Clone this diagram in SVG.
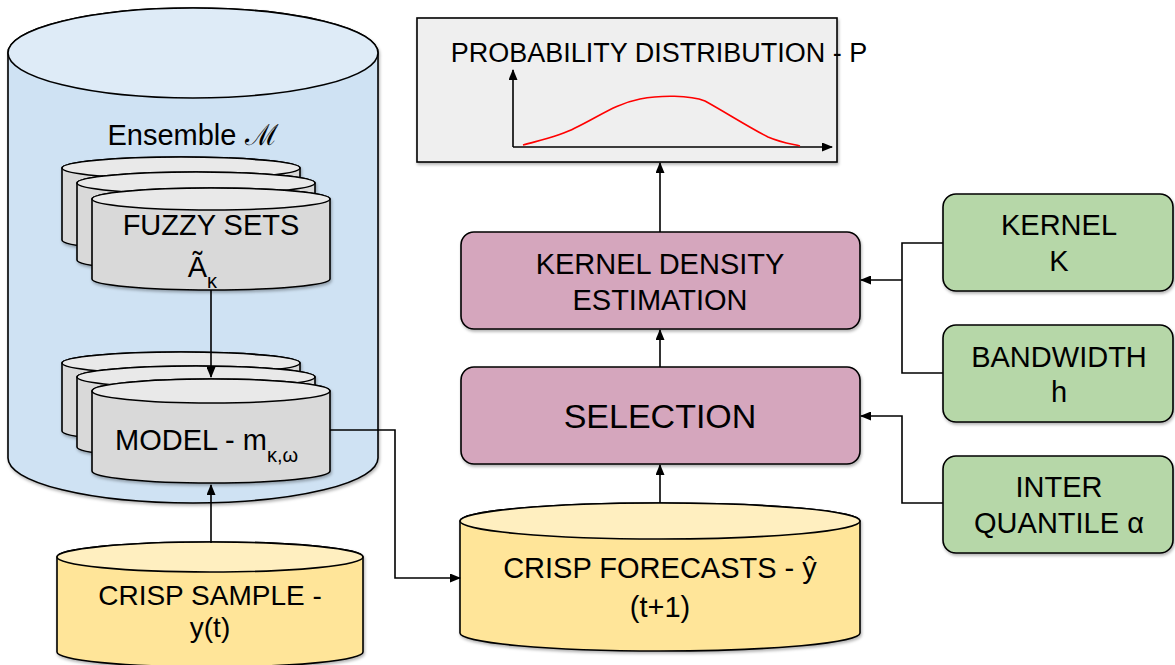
<svg xmlns="http://www.w3.org/2000/svg" width="1175" height="665" viewBox="0 0 1175 665">
<defs>
<style>
.t{font-family:"Liberation Sans",Arial,sans-serif;font-size:29px;fill:#000;text-anchor:middle}
.ln{stroke:#000;stroke-width:1.6;fill:none}
.shape{stroke:#000;stroke-width:1.6}
.blue{fill:#cfe2f3}.blueTop{fill:#deebf7}
.gray{fill:#d9d9d9}.grayTop{fill:#e9e9e9}
.yel{fill:#ffe599}.yelTop{fill:#ffefc0}
.pink{fill:#d5a6bd}.green{fill:#b6d7a8}
</style>
<filter id="sh" x="-10%" y="-10%" width="120%" height="130%">
<feDropShadow dx="1" dy="2" stdDeviation="1.5" flood-color="#000" flood-opacity="0.3"/>
</filter>
<marker id="ar" markerUnits="userSpaceOnUse" markerWidth="11" markerHeight="9" refX="10" refY="4.5" orient="auto">
<path d="M0,0 L11,4.5 L0,9 z" fill="#000"/>
</marker>
</defs>

<g id="ensemble" filter="url(#sh)">
<path class="shape blue" d="M8,53 V458 A185,45 0 0 0 378,458 V53 A185,45 0 0 0 8,53 Z"/>
<ellipse class="shape blueTop" cx="193" cy="53" rx="185" ry="45"/>
</g>
<text class="t" x="193" y="145">Ensemble <tspan font-family="'DejaVu Serif',serif">ℳ</tspan></text>

<g id="fuzzy-sets" filter="url(#sh)">
<path class="shape gray" d="M62,168 V240 A119,11 0 0 0 300,240 V168 A119,11 0 0 0 62,168 Z"/>
<ellipse class="shape grayTop" cx="181" cy="168" rx="119" ry="11"/>
<path class="shape gray" d="M77,183 V260 A119,11 0 0 0 315,260 V183 A119,11 0 0 0 77,183 Z"/>
<ellipse class="shape grayTop" cx="196" cy="183" rx="119" ry="11"/>
<path class="shape gray" d="M92,199 V279 A119,11 0 0 0 330,279 V199 A119,11 0 0 0 92,199 Z"/>
<ellipse class="shape grayTop" cx="211" cy="199" rx="119" ry="11"/>
</g>
<text class="t" x="211" y="235">FUZZY SETS</text>
<text class="t" x="217" y="277" style="text-anchor:end">Ã<tspan font-size="20" dy="11">κ</tspan></text>

<g id="model" filter="url(#sh)">
<path class="shape gray" d="M62,363 V431 A119,11 0 0 0 300,431 V363 A119,11 0 0 0 62,363 Z"/>
<ellipse class="shape grayTop" cx="181" cy="363" rx="119" ry="11"/>
<path class="shape gray" d="M77,377 V447 A119,11 0 0 0 315,447 V377 A119,11 0 0 0 77,377 Z"/>
<ellipse class="shape grayTop" cx="196" cy="377" rx="119" ry="11"/>
<path class="shape gray" d="M92,391 V471 A119,12 0 0 0 330,471 V391 A119,12 0 0 0 92,391 Z"/>
<ellipse class="shape grayTop" cx="211" cy="391" rx="119" ry="12"/>
</g>
<text class="t" x="115" y="450" style="text-anchor:start">MODEL - m<tspan font-size="20" dy="12">κ,ω</tspan></text>

<g id="crisp-sample" filter="url(#sh)">
<path class="shape yel" d="M57,557 V652 A153,15 0 0 0 363,652 V557 A153,15 0 0 0 57,557 Z"/>
<ellipse class="shape yelTop" cx="210" cy="557" rx="153" ry="15"/>
</g>
<text class="t" x="210" y="605" style="font-size:28px">CRISP SAMPLE -</text>
<text class="t" x="210" y="637" style="font-size:28px">y(t)</text>

<g id="probability" filter="url(#sh)">
<rect class="shape" x="417" y="18" width="420" height="144" fill="#efefef"/>
</g>
<text class="t" x="659" y="62" style="font-size:27px">PROBABILITY DISTRIBUTION - P</text>
<path class="ln" d="M513,147 V70" marker-end="url(#ar)"/>
<path class="ln" d="M513,147 H832" marker-end="url(#ar)"/>
<path d="M523,145 C545,139 560,136 575,128 C600,116 615,104 640,99 C660,95 690,95 705,101 C725,112 750,128 768,137 C782,143 792,144 800,146" fill="none" stroke="#ff0000" stroke-width="1.6"/>

<g id="kde" filter="url(#sh)">
<rect class="shape pink" x="461" y="232" width="399" height="97" rx="13"/>
</g>
<text class="t" x="660" y="274">KERNEL DENSITY</text>
<text class="t" x="660" y="310">ESTIMATION</text>

<g id="selection" filter="url(#sh)">
<rect class="shape pink" x="461" y="367" width="399" height="97" rx="13"/>
</g>
<text class="t" x="660" y="428" style="font-size:34px">SELECTION</text>

<g id="crisp-forecasts" filter="url(#sh)">
<path class="shape yel" d="M460,521 V633 A200,18 0 0 0 860,633 V521 A200,18 0 0 0 460,521 Z"/>
<ellipse class="shape yelTop" cx="660" cy="521" rx="200" ry="18"/>
</g>
<text class="t" x="660" y="578">CRISP FORECASTS - ŷ</text>
<text class="t" x="660" y="617">(t+1)</text>

<g id="kernel" filter="url(#sh)">
<rect class="shape green" x="943" y="194" width="230" height="97" rx="13"/>
</g>
<text class="t" x="1059" y="235">KERNEL</text>
<text class="t" x="1059" y="271">K</text>

<g id="bandwidth" filter="url(#sh)">
<rect class="shape green" x="943" y="325" width="230" height="97" rx="13"/>
</g>
<text class="t" x="1059" y="367">BANDWIDTH</text>
<text class="t" x="1059" y="402">h</text>

<g id="interquantile" filter="url(#sh)">
<rect class="shape green" x="943" y="456" width="230" height="97" rx="13"/>
</g>
<text class="t" x="1059" y="497">INTER</text>
<text class="t" x="1059" y="533">QUANTILE α</text>

<g id="connectors">
<path class="ln" d="M211,290 V377" marker-end="url(#ar)"/>
<path class="ln" d="M211,543 V485" marker-end="url(#ar)"/>
<path class="ln" d="M330,430 H395 V578 H460" marker-end="url(#ar)"/>
<path class="ln" d="M660,503 V465" marker-end="url(#ar)"/>
<path class="ln" d="M660,367 V330" marker-end="url(#ar)"/>
<path class="ln" d="M660,232 V163" marker-end="url(#ar)"/>
<path class="ln" d="M943,243 H902 V373 H943"/>
<path class="ln" d="M902,280 H861" marker-end="url(#ar)"/>
<path class="ln" d="M943,503 H902 V416 H861" marker-end="url(#ar)"/>
</g>
</svg>
